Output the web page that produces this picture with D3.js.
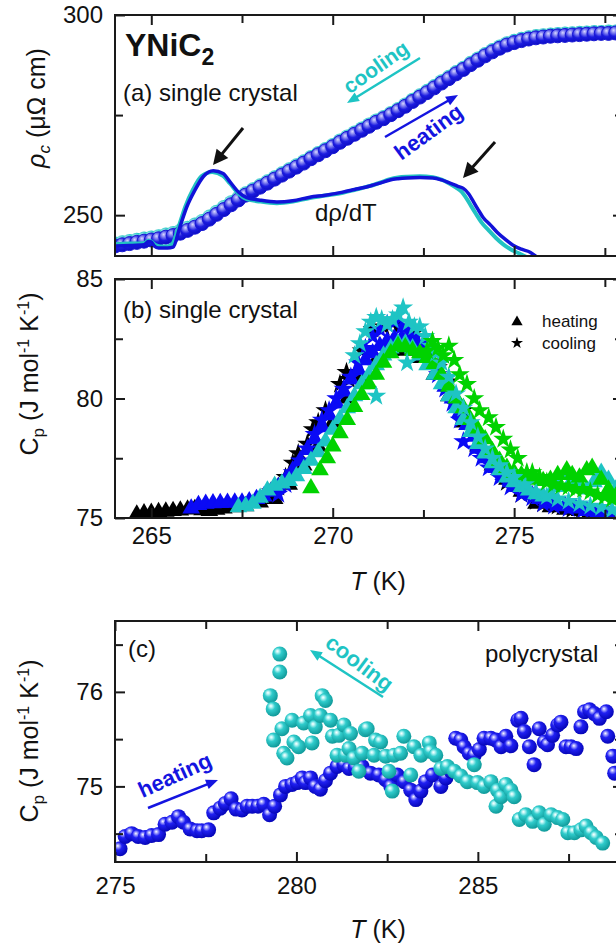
<!DOCTYPE html>
<html><head><meta charset="utf-8">
<script src="https://cdn.jsdelivr.net/npm/d3@7"></script>
<style>body{margin:0;background:#fff;} svg{display:block;font-family:'Liberation Sans',Arial,sans-serif;}</style>
</head><body><svg id="c" width="616" height="952"></svg>
<script>
// ---------------- DATA ----------------
// panel (a): resistivity (heating / cooling), T grid
const rhoT = [264.0,264.2,264.4,264.6,264.8,265.0,265.2,265.4,265.6,265.8,266.0,266.2,266.4,266.6,266.8,267.0,267.2,267.4,267.6,267.8,268.0,268.2,268.4,268.6,268.8,269.0,269.2,269.4,269.6,269.8,270.0,270.2,270.4,270.6,270.8,271.0,271.2,271.4,271.6,271.8,272.0,272.2,272.4,272.6,272.8,273.0,273.2,273.4,273.6,273.8,274.0,274.2,274.4,274.6,274.8,275.0,275.2,275.4,275.6,275.8,276.0,276.2,276.4,276.6,276.8,277.0,277.2,277.4,277.6,277.8];
const rhoHeat = [242.3,242.6,242.9,243.2,243.5,243.8,244.1,244.5,244.9,245.5,246.2,247.0,247.9,249.0,250.2,251.4,252.6,253.8,255.0,256.0,257.0,258.0,259.0,260.0,261.0,262.0,263.0,264.1,265.1,266.1,267.1,268.2,269.2,270.2,271.2,272.2,273.2,274.1,275.1,276.1,277.2,278.4,279.5,280.6,281.8,283.0,284.1,285.3,286.4,287.6,288.7,289.8,290.8,291.7,292.5,293.1,293.6,294.0,294.3,294.5,294.7,294.8,294.9,295.0,295.1,295.2,295.3,295.4,295.4,295.5];
const rhoCool = [242.9,243.2,243.5,243.8,244.1,244.4,244.7,245.1,245.5,246.1,246.8,247.6,248.5,249.6,250.8,252.0,253.2,254.3,255.4,256.4,257.4,258.4,259.4,260.4,261.4,262.4,263.4,264.5,265.5,266.5,267.5,268.6,269.6,270.6,271.6,272.6,273.6,274.5,275.5,276.5,277.6,278.8,279.9,281.0,282.2,283.4,284.5,285.7,286.8,288.0,289.1,290.2,291.2,292.1,292.9,293.5,294.0,294.4,294.7,294.9,295.1,295.2,295.3,295.4,295.5,295.6,295.7,295.7,295.8,295.8];
// d rho / dT curves (arbitrary units, drawn on the rho axis)
const dRhoHeat = [[264.0,242.3],[264.4,242.4],[264.8,242.6],[264.92,243.4],[265.0,243.3],[265.08,242.3],[265.2,241.8],[265.45,241.8],[265.6,242.0],[265.79,247.1],[265.98,252.1],[266.2,256.2],[266.43,259.6],[266.71,261.1],[266.98,260.4],[267.17,258.3],[267.4,255.8],[267.63,254.4],[268.0,253.75],[268.46,253.3],[268.9,253.6],[269.37,254.5],[269.8,255.0],[270.28,255.75],[270.6,256.4],[271.03,257.3],[271.3,258.0],[271.58,258.8],[271.8,259.1],[272.05,259.3],[272.4,259.4],[272.76,259.3],[273.0,258.8],[273.23,258.0],[273.45,257.2],[273.59,256.75],[273.75,255.3],[273.87,253.5],[274.0,251.5],[274.14,249.5],[274.35,247.5],[274.53,245.75],[274.75,244.0],[274.97,242.5],[275.2,241.5],[275.44,240.75],[275.63,239.5]];
const dRhoCool = [[264.0,242.8],[264.4,242.9],[264.8,243.0],[264.92,243.6],[265.0,243.4],[265.1,242.6],[265.25,242.2],[265.45,242.2],[265.58,242.8],[265.75,247.0],[265.94,252.2],[266.15,256.4],[266.38,259.7],[266.68,260.8],[266.98,259.8],[267.17,257.9],[267.4,255.4],[267.63,254.0],[268.0,253.4],[268.46,253.0],[268.9,253.4],[269.37,254.3],[269.8,254.9],[270.28,255.6],[270.6,256.3],[271.03,257.3],[271.3,258.1],[271.58,259.0],[271.8,259.4],[272.05,259.6],[272.4,259.7],[272.76,259.5],[273.0,258.9],[273.2,258.0],[273.4,256.9],[273.55,255.9],[273.7,254.0],[273.82,252.2],[273.95,250.3],[274.1,248.2],[274.3,246.2],[274.5,244.3],[274.7,242.7],[274.9,241.5],[275.1,240.6],[275.35,239.5]];

// panel (b): single crystal Cp, triangles = heating, stars = cooling (4 runs)
const blackTri = [[264.6,75.15],[264.8,75.2],[265.0,75.22],[265.2,75.25],[265.4,75.27],[265.6,75.3],[265.8,75.32],[266.0,75.36],[266.2,75.38],[266.4,75.33],[266.6,75.3],[266.8,75.35],[267.0,75.4],[267.3,75.45],[267.6,75.5],[268.0,75.65],[268.4,75.8],[268.8,76.4],[269.2,77.2],[269.6,78.0],[270.0,79.0],[270.4,80.0],[270.8,80.9],[271.2,81.6],[271.6,82.0],[272.0,82.0],[272.4,81.7],[272.8,81.0],[273.2,80.1],[273.6,79.0],[274.0,78.0],[274.4,77.2],[274.8,76.6],[275.2,76.1],[275.6,75.6],[276.0,75.45],[276.4,75.35],[276.8,75.3],[277.2,75.2],[277.6,75.15]];
const blackStar = [[268.3,76.1],[268.5,76.3],[268.7,76.7],[268.9,77.3],[269.05,77.7],[269.3,78.1],[269.45,78.7],[269.6,79.0],[269.8,79.5],[270.2,80.6],[270.38,81.1],[270.45,80.8],[270.8,82.0],[271.1,82.9],[271.4,83.0],[271.8,83.0],[272.2,82.7],[272.6,82.0],[272.9,81.3],[273.2,80.7],[273.6,79.5],[274.0,78.3],[274.4,77.3],[274.8,76.5],[275.2,76.0],[275.6,75.7],[275.8,75.6],[276.2,75.5],[276.6,75.35],[277.0,75.25],[277.45,75.1]];
const blueTri = [[266.1,75.4],[266.3,75.55],[266.5,75.6],[266.7,75.62],[266.9,75.63],[267.1,75.64],[267.3,75.65],[267.5,75.65],[267.7,75.7],[267.9,75.8],[268.1,75.9],[268.3,76.1],[268.5,76.3],[268.7,76.6],[268.9,77.0],[269.1,77.4],[269.3,77.85],[269.5,78.3],[269.7,78.8],[269.9,79.3],[270.1,79.8],[270.3,80.3],[270.5,80.8],[270.7,81.2],[270.9,81.6],[271.1,81.9],[271.3,82.2],[271.5,82.4],[271.7,82.5],[271.9,82.5],[272.1,82.4],[272.3,82.2],[272.5,81.9],[272.7,81.5],[272.9,81.0],[273.1,80.5],[273.3,80.0],[273.5,79.4],[273.7,78.9],[273.9,78.4],[274.1,77.9],[274.3,77.5],[274.5,77.1],[274.7,76.8],[274.9,76.5],[275.1,76.3],[275.3,76.1],[275.5,75.95],[275.7,75.8],[275.9,75.7],[276.1,75.6],[276.4,75.5],[276.7,75.4],[277.0,75.3],[277.3,75.2],[277.6,75.1]];
const blueStar = [[268.5,76.0],[268.7,76.4],[268.9,76.9],[269.1,77.4],[269.3,77.9],[269.5,78.5],[269.7,79.1],[269.9,79.5],[270.1,80.0],[270.3,80.4],[270.5,80.9],[270.7,81.5],[270.9,82.1],[271.1,82.6],[271.3,82.9],[271.5,83.1],[271.7,83.2],[271.9,83.0],[272.1,82.9],[272.3,82.6],[272.5,82.3],[272.7,81.8],[272.9,81.0],[273.1,80.4],[273.3,79.8],[273.5,79.1],[273.6,78.2],[273.9,77.9],[274.1,77.5],[274.3,77.1],[274.6,76.7],[274.9,76.3],[275.2,76.0],[275.5,75.85],[275.8,75.6],[276.1,75.5],[276.5,75.4],[276.9,75.33],[277.2,75.2],[277.5,75.06]];
const cyanTri = [[267.4,75.45],[267.6,75.5],[267.8,75.6],[268.0,75.85],[268.2,76.15],[268.4,76.35],[268.6,76.45],[268.8,76.55],[269.0,76.75],[269.2,77.05],[269.4,77.4],[269.6,77.75],[269.8,78.2],[270.0,78.7],[270.2,79.15],[270.4,79.6],[270.6,80.1],[270.8,80.6],[271.0,81.0],[271.2,81.4],[271.4,81.8],[271.6,82.1],[271.8,82.3],[272.0,82.3],[272.2,82.1],[272.4,81.8],[272.6,81.4],[272.8,81.0],[273.0,80.6],[273.2,80.1],[273.4,79.6],[273.6,79.1],[273.8,78.6],[274.0,78.1],[274.2,77.7],[274.4,77.3],[274.6,77.0],[274.8,76.7],[275.0,76.5],[275.2,76.3],[275.4,76.15],[275.6,76.0],[275.8,75.9],[276.0,76.0],[276.2,76.3],[276.4,76.8],[276.6,76.6],[276.8,76.3],[277.0,76.2],[277.2,76.5],[277.4,76.9],[277.6,76.6],[277.8,76.2]];
const cyanStar = [[270.6,81.8],[270.75,82.3],[270.9,82.8],[271.05,83.2],[271.2,83.4],[271.2,80.1],[271.35,83.3],[271.5,83.1],[271.65,83.3],[271.8,83.5],[271.94,83.8],[272.05,81.5],[272.1,83.2],[272.25,83.0],[272.4,83.0],[272.55,82.6],[272.7,82.2],[272.85,81.9],[273.0,81.5],[273.2,80.9],[273.4,80.2],[273.6,79.6],[273.8,79.0],[274.0,78.4],[274.2,77.9],[274.4,77.5],[274.6,77.2],[274.8,76.9],[275.0,76.7],[275.3,76.4],[275.6,76.1],[275.9,75.9],[276.2,75.8],[276.5,75.7],[276.8,75.6],[277.1,75.5],[277.4,75.45],[277.7,75.35]];
const greenTri = [[269.4,76.25],[269.65,77.0],[269.85,77.5],[270.0,78.0],[270.2,78.55],[270.4,79.1],[270.6,79.65],[270.8,80.15],[271.0,80.6],[271.2,81.0],[271.4,81.5],[271.6,81.9],[271.8,82.2],[272.0,82.15],[272.2,82.0],[272.4,81.9],[272.6,81.7],[272.8,81.45],[273.0,81.0],[273.2,80.5],[273.4,80.0],[273.6,79.6],[273.8,79.1],[274.0,78.7],[274.2,78.3],[274.4,77.8],[274.6,77.4],[274.8,77.1],[275.0,76.9],[275.2,76.8],[275.4,76.65],[275.6,76.6],[275.8,76.55],[276.0,76.6],[276.2,76.8],[276.45,77.0],[276.6,76.8],[276.8,76.7],[277.0,77.0],[277.15,77.1],[277.4,76.6],[277.6,76.2],[277.8,75.9]];
const greenStar = [[272.6,82.0],[272.75,82.4],[272.9,82.1],[273.05,81.8],[273.2,82.2],[273.35,81.6],[273.5,81.0],[273.7,80.6],[273.9,80.0],[274.05,79.5],[274.3,79.2],[274.5,78.8],[274.7,78.3],[274.9,77.85],[275.1,77.5],[275.35,76.9],[275.5,76.9],[275.7,76.7],[275.9,76.5],[276.1,76.4],[276.3,76.35],[276.5,76.3],[276.7,76.2],[276.9,76.2],[277.1,76.1],[277.3,75.95],[277.5,75.9],[277.7,75.8]];

// panel (c): polycrystal Cp
const polyHeat = [[275.14,74.34],[275.28,74.47],[275.46,74.50],[275.64,74.47],[275.83,74.46],[276.01,74.48],[276.20,74.49],[276.38,74.60],[276.57,74.62],[276.75,74.68],[276.89,74.62],[277.07,74.55],[277.26,74.53],[277.39,74.53],[277.58,74.54],[277.72,74.72],[277.90,74.77],[278.04,74.82],[278.20,74.87],[278.34,74.76],[278.50,74.75],[278.64,74.79],[278.78,74.79],[278.94,74.79],[279.10,74.81],[279.26,74.70],[279.40,74.79],[279.56,74.91],[279.70,75.00],[279.88,75.02],[280.02,75.04],[280.16,75.09],[280.25,75.04],[280.39,75.09],[280.52,75.00],[280.66,74.97],[280.80,75.06],[280.94,75.14],[281.12,75.21],[281.31,75.23],[281.45,75.19],[281.62,75.20],[281.81,75.21],[282.04,75.14],[282.27,75.12],[282.46,75.07],[282.60,75.00],[282.78,75.12],[282.97,75.05],[283.15,74.96],[283.29,74.86],[283.43,74.95],[283.56,75.05],[283.75,75.12],[283.98,75.00],[284.12,75.09],[284.26,75.16],[284.39,75.51],[284.53,75.49],[284.62,75.42],[284.76,75.35],[284.90,75.33],[285.04,75.39],[285.17,75.51],[285.36,75.51],[285.50,75.49],[285.64,75.42],[285.77,75.53],[285.91,75.43],[286.10,75.70],[286.19,75.72],[286.28,75.58],[286.42,75.42],[286.55,75.23],[286.69,75.61],[286.83,75.47],[286.92,75.44],[287.06,75.54],[287.20,75.65],[287.29,75.68],[287.43,75.42],[287.57,75.42],[287.71,75.40],[287.84,75.63],[287.94,75.79],[288.08,75.81],[288.21,75.77],[288.35,75.72],[288.54,75.79],[288.58,75.53],[288.72,75.32],[288.77,75.14]];
const polyCool = [[279.28,75.96],[279.36,75.82],[279.37,75.49],[279.54,76.40],[279.54,76.21],[279.60,75.61],[279.65,75.35],[279.74,75.30],[279.88,75.70],[279.93,75.47],[280.06,75.42],[280.20,75.67],[280.39,75.75],[280.43,75.46],[280.52,75.63],[280.66,75.75],[280.71,75.96],[280.80,75.91],[280.94,75.70],[280.99,75.53],[281.12,75.33],[281.17,75.54],[281.31,75.65],[281.35,75.33],[281.45,75.40],[281.49,75.56],[281.58,75.30],[281.72,75.16],[281.81,75.35],[281.90,75.60],[281.95,75.61],[282.14,75.33],[282.18,75.49],[282.32,75.47],[282.46,75.32],[282.55,75.16],[282.64,74.95],[282.69,75.33],[282.87,75.35],[282.96,75.53],[283.15,75.12],[283.24,75.42],[283.43,75.33],[283.66,75.46],[283.70,75.37],[283.84,75.33],[283.98,75.19],[284.16,75.21],[284.35,75.16],[284.53,75.11],[284.71,75.05],[284.90,75.23],[284.99,75.04],[285.17,75.00],[285.36,75.05],[285.50,74.79],[285.54,74.96],[285.64,74.89],[285.77,75.02],[285.91,74.96],[286.00,74.89],[286.14,74.65],[286.32,74.70],[286.51,74.63],[286.69,74.72],[286.83,74.60],[287.02,74.70],[287.20,74.67],[287.34,74.65],[287.48,74.51],[287.66,74.51],[287.84,74.54],[287.98,74.58],[288.12,74.51],[288.26,74.46],[288.44,74.40]];

// axes domains and ticks
const tDomainAB = [264, 278], tDomainC = [275, 289];
const rhoDomain = [239.8, 300], cpDomainB = [75, 85], cpDomainC = [74.2, 76.75];
const tMajorAB = [265, 270, 275], tMinorAB = [267.5, 272.5, 277.5];
const tMajorC = [275, 280, 285], tMinorC = [277.5, 282.5, 287.5];
const rhoMajor = [250, 300], rhoMinor = [275];
const cpMajorB = [75, 80, 85], cpMinorB = [77.5, 82.5];
const cpMajorC = [75, 76], cpMinorC = [74.5, 75.5, 76.5];

// ---------------- DRAWING ----------------
const svg = d3.select("#c");
const L = 115, R = 623;
const PA = {top: 15, bot: 256}, PB = {top: 279, bot: 518}, PC = {top: 621, bot: 862};

const xAB = d3.scaleLinear().domain(tDomainAB).range([L, R]);
const xC = d3.scaleLinear().domain(tDomainC).range([L, R]);
const yA = d3.scaleLinear().domain(rhoDomain).range([PA.bot, PA.top]);
const yB = d3.scaleLinear().domain(cpDomainB).range([PB.bot, PB.top]);
const yC = d3.scaleLinear().domain(cpDomainC).range([PC.bot, PC.top]);

const COL = {blue: "#1414e0", cyan: "#1ec4c4", green: "#00d200", black: "#000", lineBlue: "#1212d8", lineCyan: "#22c2c2"};

const defs = svg.append("defs");
function sphere(id, stops) {
  const g = defs.append("radialGradient").attr("id", id).attr("cx", "0.4").attr("cy", "0.38").attr("r", "0.62").attr("fx", "0.34").attr("fy", "0.3");
  stops.forEach(s => g.append("stop").attr("offset", s[0]).attr("stop-color", s[1]));
}
sphere("gBlue", [[0, "#ffffff"], [0.14, "#b0b0ff"], [0.42, "#2020f2"], [1, "#0606b8"]]);
sphere("gCyan", [[0, "#ffffff"], [0.14, "#c0f6f6"], [0.42, "#30cccc"], [1, "#109a9a"]]);
sphere("gBlueA", [[0, "#d8d8ff"], [0.3, "#7c7cf0"], [0.62, "#1c1ce0"], [1, "#0c0cc4"]]);
sphere("gCyanA", [[0, "#d8ffff"], [0.3, "#80e0e0"], [0.62, "#1fc4c4"], [1, "#12a6a6"]]);

function clip(id, p) {
  defs.append("clipPath").attr("id", id).append("rect").attr("x", L).attr("y", p.top).attr("width", R - L).attr("height", p.bot - p.top);
}
clip("cA", PA); clip("cB", PB); clip("cC", PC);

function axes(p, x, y, o) {
  const g = svg.append("g").attr("class", "ax");
  g.append("g").attr("transform", `translate(${L},0)`).call(d3.axisLeft(y).tickValues(o.yMaj).tickSize(-10).tickPadding(12).tickFormat(d3.format("d")));
  g.append("g").attr("transform", `translate(${L},0)`).call(d3.axisLeft(y).tickValues(o.yMin).tickSize(-8).tickFormat(""));
  g.append("g").attr("transform", `translate(${R},0)`).call(d3.axisRight(y).tickValues(o.yMaj).tickSize(-10).tickFormat(""));
  g.append("g").attr("transform", `translate(${R},0)`).call(d3.axisRight(y).tickValues(o.yMin).tickSize(-8).tickFormat(""));
  g.append("g").attr("transform", `translate(0,${p.top})`).call(d3.axisTop(x).tickValues(o.xMaj).tickSize(-10).tickFormat(""));
  g.append("g").attr("transform", `translate(0,${p.top})`).call(d3.axisTop(x).tickValues(o.xMin).tickSize(-8).tickFormat(""));
  const b = d3.axisBottom(x).tickValues(o.xMaj).tickSize(-10).tickPadding(o.xPad || 10);
  b.tickFormat(o.xLabels ? d3.format("d") : "");
  g.append("g").attr("transform", `translate(0,${p.bot})`).call(b);
  g.append("g").attr("transform", `translate(0,${p.bot})`).call(d3.axisBottom(x).tickValues(o.xMin).tickSize(-8).tickFormat(""));
  g.selectAll(".domain").remove();
  g.selectAll(".tick line").attr("stroke", "#1a1a1a").attr("stroke-width", 2);
  g.selectAll(".tick text").attr("font-size", 24).attr("fill", "#111").attr("font-family", "'Liberation Sans',Arial,sans-serif");
  svg.append("rect").attr("x", L).attr("y", p.top).attr("width", R - L).attr("height", p.bot - p.top)
    .attr("fill", "none").attr("stroke", "#1a1a1a").attr("stroke-width", 2);
}

function arrow(g, x1, y1, x2, y2, color, w, hl, hw) {
  const a = Math.atan2(y2 - y1, x2 - x1);
  const bx = x2 - hl * Math.cos(a), by = y2 - hl * Math.sin(a);
  g.append("line").attr("x1", x1).attr("y1", y1).attr("x2", bx + Math.cos(a)).attr("y2", by + Math.sin(a))
    .attr("stroke", color).attr("stroke-width", w);
  const s = Math.sin(a), c = Math.cos(a);
  g.append("polygon").attr("points", `${x2},${y2} ${bx + hw / 2 * s},${by - hw / 2 * c} ${bx - hw / 2 * s},${by + hw / 2 * c}`).attr("fill", color);
}

function label(g, x, y, txt, opt) {
  const t = g.append("text").attr("x", x).attr("y", y).text(txt).attr("font-size", opt.size || 24).attr("fill", opt.fill || "#111");
  if (opt.bold) t.attr("font-weight", "bold");
  if (opt.rot !== undefined) t.attr("transform", `rotate(${opt.rot},${x},${y})`).attr("text-anchor", "middle");
  if (opt.anchor) t.attr("text-anchor", opt.anchor);
  return t;
}

// ---- Panel (a) ----
const gA = svg.append("g").attr("clip-path", "url(#cA)");
gA.selectAll("circle.cool").data(rhoT.map((t, i) => [t, rhoCool[i]])).join("circle")
  .attr("cx", d => xAB(d[0])).attr("cy", d => yA(d[1])).attr("r", 7.2).attr("fill", "url(#gCyanA)");
gA.selectAll("circle.heat").data(rhoT.map((t, i) => [t, rhoHeat[i]])).join("circle")
  .attr("cx", d => xAB(d[0])).attr("cy", d => yA(d[1])).attr("r", 7).attr("fill", "url(#gBlueA)")
  .attr("stroke", "#1818d4").attr("stroke-width", 1);
const lineA = d3.line().x(d => xAB(d[0])).y(d => yA(d[1])).curve(d3.curveMonotoneX);
gA.append("path").attr("d", lineA(dRhoCool)).attr("fill", "none").attr("stroke", COL.lineCyan).attr("stroke-width", 4).attr("stroke-linejoin", "round");
gA.append("path").attr("d", lineA(dRhoHeat)).attr("fill", "none").attr("stroke", COL.lineBlue).attr("stroke-width", 3.5).attr("stroke-linejoin", "round");

axes(PA, xAB, yA, {yMaj: rhoMajor, yMin: rhoMinor, xMaj: tMajorAB, xMin: tMinorAB, xLabels: false});

const ann = svg.append("g");
const tY = ann.append("text").attr("x", 125).attr("y", 56).attr("font-size", 32).attr("font-weight", "bold").attr("fill", "#111");
tY.append("tspan").text("YNiC");
tY.append("tspan").text("2").attr("font-size", 23).attr("dy", 9);
label(ann, 123, 101, "(a) single crystal", {size: 24});
label(ann, 315, 221, "dρ/dT", {size: 24});
label(ann, 380, 73, "cooling", {size: 21, bold: true, fill: COL.cyan, rot: -35});
arrow(ann, 420, 58, 347, 103, COL.cyan, 2.5, 12, 10);
label(ann, 433, 138, "heating", {size: 22, bold: true, fill: COL.blue, rot: -36});
arrow(ann, 385, 137, 458, 95, COL.blue, 2.5, 12, 10);
arrow(ann, 243, 128, 213, 165, "#111", 3, 15, 15);
arrow(ann, 495, 142, 463, 178, "#111", 3, 15, 15);

// ---- Panel (b) ----
const gB = svg.append("g").attr("clip-path", "url(#cB)");
const tri = d3.symbol(d3.symbolTriangle, 135), star = d3.symbol(d3.symbolStar, 125);
function marks(data, sym, color) {
  gB.append("g").selectAll("path").data(data).join("path")
    .attr("d", sym).attr("transform", d => `translate(${xAB(d[0])},${yB(d[1])})`).attr("fill", color);
}
marks(blackTri, tri, COL.black);
marks(blackStar, star, COL.black);
marks(blueTri, tri, "#0a0af5");
marks(blueStar, star, "#0a0af5");
marks(cyanTri, tri, COL.cyan);
marks(greenTri, tri, COL.green);
marks(cyanStar, star, COL.cyan);
marks(greenStar, star, COL.green);

axes(PB, xAB, yB, {yMaj: cpMajorB, yMin: cpMinorB, xMaj: tMajorAB, xMin: tMinorAB, xLabels: true, xPad: 9});
label(ann, 123, 318, "(b) single crystal", {size: 24});
ann.append("path").attr("d", d3.symbol(d3.symbolTriangle, 55)()).attr("transform", "translate(517,322)").attr("fill", "#000");
ann.append("path").attr("d", d3.symbol(d3.symbolStar, 45)()).attr("transform", "translate(517,343)").attr("fill", "#000");
label(ann, 542, 327, "heating", {size: 17});
label(ann, 542, 349, "cooling", {size: 17});

// ---- Panel (c) ----
const gC = svg.append("g").attr("clip-path", "url(#cC)");
gC.append("g").selectAll("circle").data(polyHeat).join("circle")
  .attr("cx", d => xC(d[0])).attr("cy", d => yC(d[1])).attr("r", 7.5).attr("fill", "url(#gBlue)");
gC.append("g").selectAll("circle").data(polyCool).join("circle")
  .attr("cx", d => xC(d[0])).attr("cy", d => yC(d[1])).attr("r", 7.5).attr("fill", "url(#gCyan)");

axes(PC, xC, yC, {yMaj: cpMajorC, yMin: cpMinorC, xMaj: tMajorC, xMin: tMinorC, xLabels: true, xPad: 15});
label(ann, 128, 657, "(c)", {size: 24});
label(ann, 485, 662, "polycrystal", {size: 24});
label(ann, 355, 669, "cooling", {size: 22, bold: true, fill: COL.cyan, rot: 37});
arrow(ann, 383, 697, 310, 650, COL.cyan, 2.5, 12, 10);
label(ann, 178, 782, "heating", {size: 22, bold: true, fill: COL.blue, rot: -24.6});
arrow(ann, 148, 808, 218, 780, COL.blue, 2.5, 12, 10);

// ---- Axis titles ----
function yTitle(x, y, parts) {
  const t = svg.append("text").attr("transform", `translate(${x},${y}) rotate(-90)`).attr("text-anchor", "middle")
    .attr("font-size", 25).attr("fill", "#111");
  parts.forEach(p => {
    const s = t.append("tspan").text(p.t);
    if (p.dy) s.attr("dy", p.dy);
    if (p.size) s.attr("font-size", p.size);
    if (p.it) s.attr("font-style", "italic");
  });
}
yTitle(45, 108, [{t: "ρ", it: true}, {t: "c", it: true, size: 17, dy: 5}, {t: " (μΩ cm)", dy: -5}]);
const cpParts = [{t: "C"}, {t: "p", size: 17, dy: 6}, {t: " (J mol", dy: -6}, {t: "-1", size: 16, dy: -9}, {t: " K", dy: 9}, {t: "-1", size: 16, dy: -9}, {t: ")", dy: 9}];
yTitle(38, 374, cpParts);
yTitle(38, 741, cpParts);

function xTitle(y) {
  const t = svg.append("text").attr("x", 378).attr("y", y).attr("text-anchor", "middle").attr("font-size", 25).attr("fill", "#111");
  t.append("tspan").text("T").attr("font-style", "italic");
  t.append("tspan").text(" (K)");
}
xTitle(590);
xTitle(938);
</script></body></html>
